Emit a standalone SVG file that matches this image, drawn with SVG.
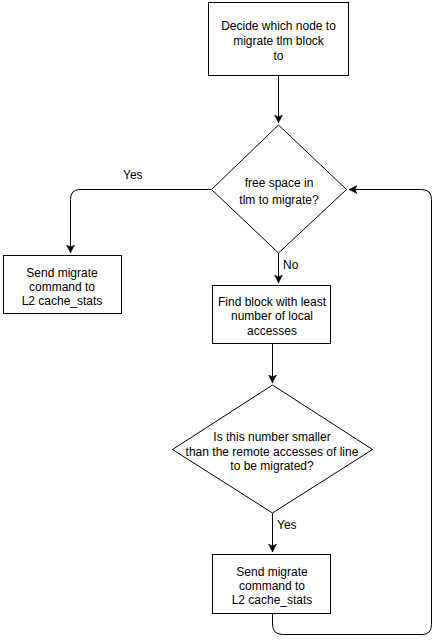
<svg xmlns="http://www.w3.org/2000/svg" width="441" height="644" viewBox="0 0 441 644">
<style>
.box{fill:#fff;stroke:#000;stroke-width:1}
.dia{fill:#fff;stroke:#000;stroke-width:1}
.t{font-family:"Liberation Sans",Arial,sans-serif;font-size:12px;fill:#000;text-anchor:middle}
.l{font-family:"Liberation Sans",Arial,sans-serif;font-size:12px;fill:#000}
.c{fill:none;stroke:#000;stroke-width:1}
</style>
<defs>
<marker id="arr" markerWidth="10" markerHeight="10" refX="8" refY="5" orient="auto" markerUnits="userSpaceOnUse">
<path d="M0,1 L8,5 L0,9 L2,5 Z" fill="#000" stroke="#000" stroke-width="0.5"/>
</marker>
</defs>
<rect width="441" height="644" fill="#fff"/>
<g id="connectors">
<path class="c" d="M278.5,75 V123" marker-end="url(#arr)"/>
<path class="c" d="M212,189.5 H80 Q70.5,189.5 70.5,199.5 V253" marker-end="url(#arr)"/>
<path class="c" d="M278.5,253 V283" marker-end="url(#arr)"/>
<path class="c" d="M272.5,344 V383" marker-end="url(#arr)"/>
<path class="c" d="M272.5,513 V552" marker-end="url(#arr)"/>
<path class="c" d="M272.5,614 V624 Q272.5,634.5 282.5,634.5 H422 Q431.5,634.5 431.5,624.5 V199.5 Q431.5,189.5 421.5,189.5 H349" marker-end="url(#arr)"/>
<text class="l" x="123" y="179">Yes</text>
<text class="l" x="283" y="269">No</text>
<text class="l" x="277" y="529">Yes</text>
</g>
<g id="n1">
<rect class="box" x="208.5" y="2.5" width="140" height="73"/>
<text class="t" x="278.5" y="30">Decide which node to</text>
<text class="t" x="278.5" y="45">migrate tlm block</text>
<text class="t" x="278.5" y="60">to</text>
</g>
<g id="n2">
<polygon class="dia" points="278.5,125 346.5,189.5 278.5,253 211.5,189.5"/>
<text class="t" x="279" y="187">free space in</text>
<text class="t" x="279" y="204">tlm to migrate?</text>
</g>
<g id="n3">
<rect class="box" x="3.5" y="255.5" width="118" height="58"/>
<text class="t" x="62" y="277">Send migrate</text>
<text class="t" x="62" y="291">command to</text>
<text class="t" x="62" y="305">L2 cache_stats</text>
</g>
<g id="n4">
<rect class="box" x="212.5" y="285.5" width="118" height="58"/>
<text class="t" x="272" y="306">Find block with least</text>
<text class="t" x="272" y="320">number of local</text>
<text class="t" x="272" y="335">accesses</text>
</g>
<g id="n5">
<polygon class="dia" points="272.5,385 372.5,449.5 272.5,513 172.5,449.5"/>
<text class="t" x="272" y="441">Is this number smaller</text>
<text class="t" x="272" y="456">than the remote accesses of line</text>
<text class="t" x="272" y="470">to be migrated?</text>
</g>
<g id="n6">
<rect class="box" x="212.5" y="554.5" width="118" height="59"/>
<text class="t" x="272" y="576">Send migrate</text>
<text class="t" x="272" y="590">command to</text>
<text class="t" x="272" y="604">L2 cache_stats</text>
</g>
</svg>
